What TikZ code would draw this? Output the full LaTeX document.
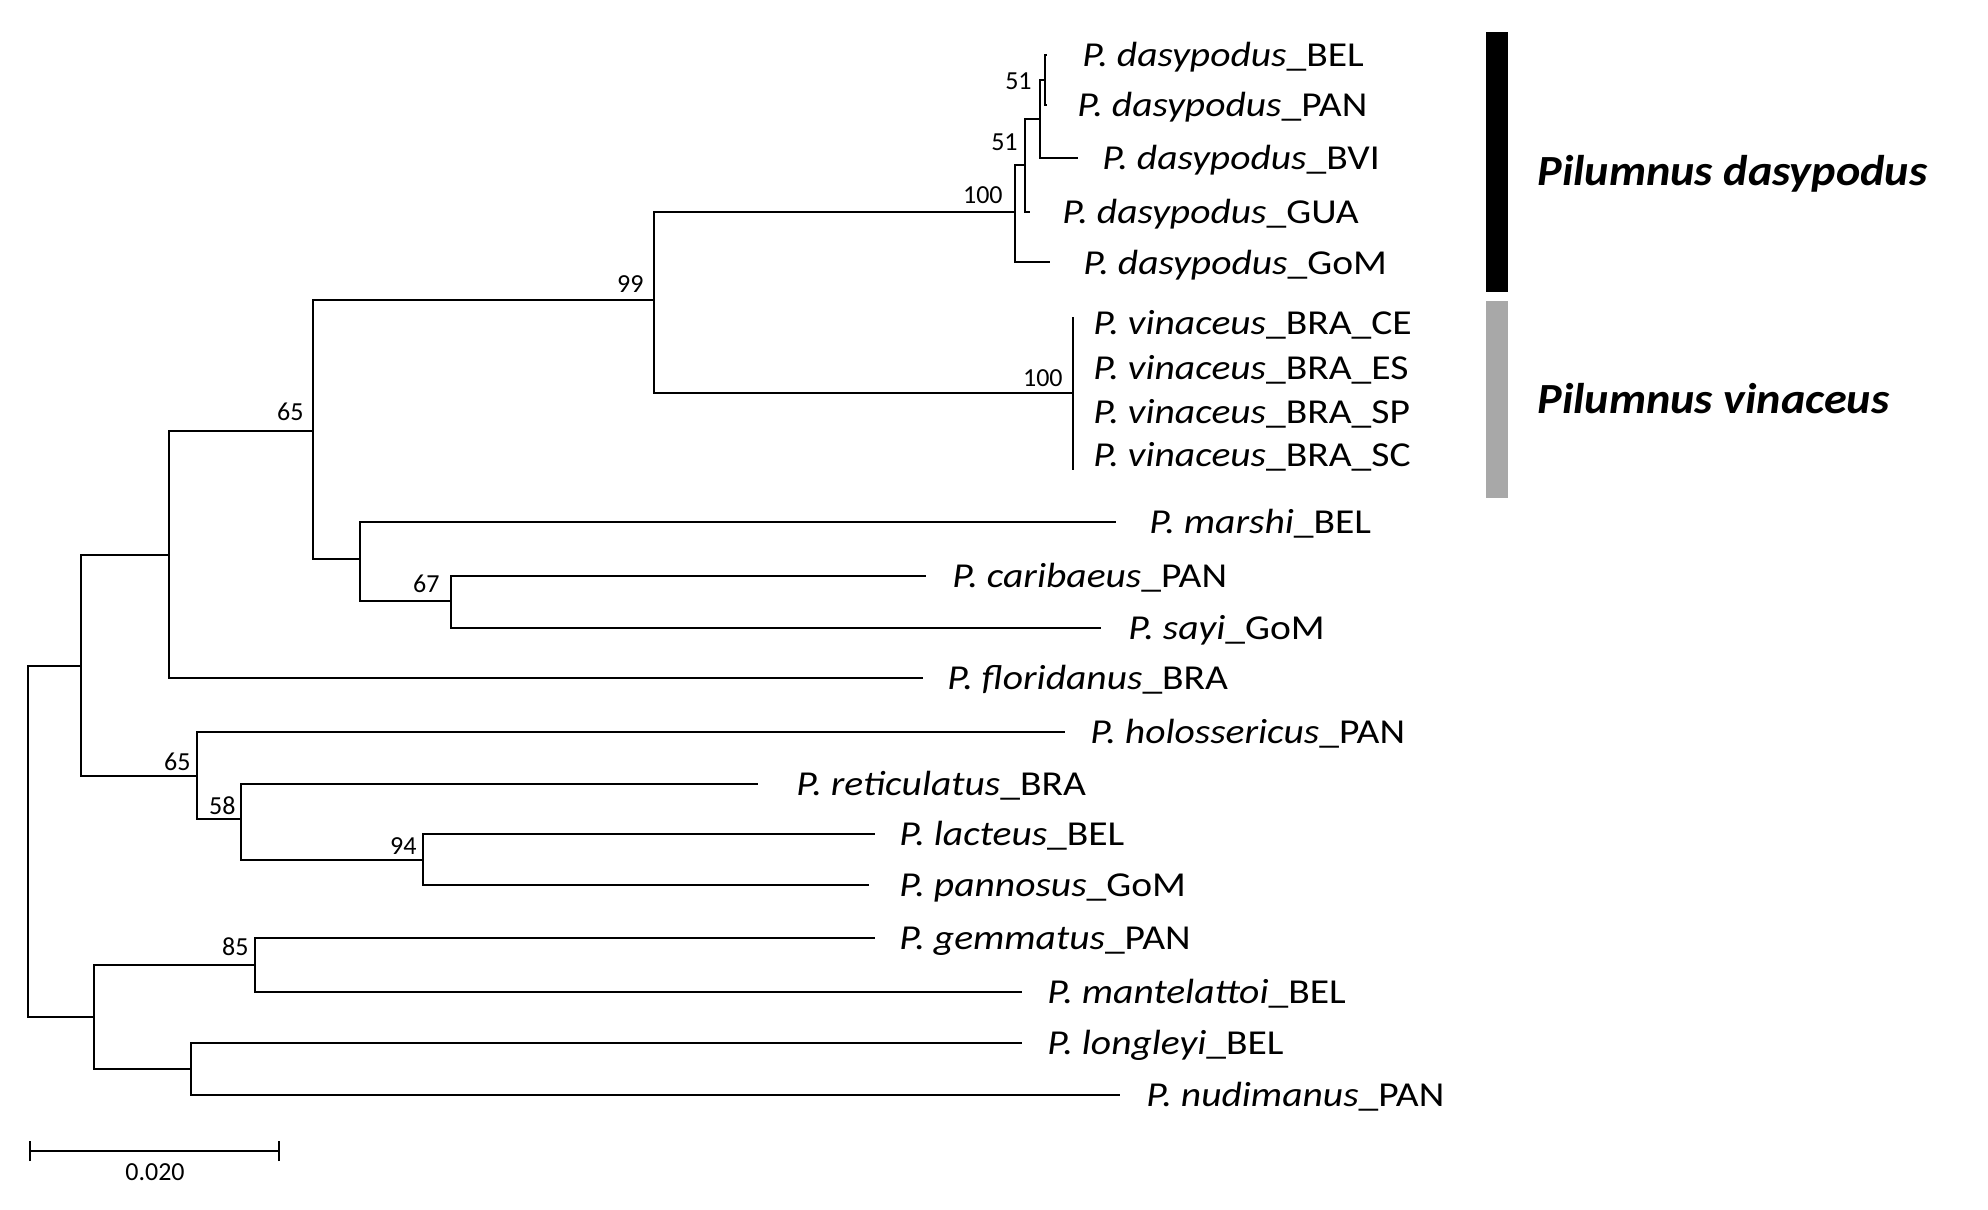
\documentclass[tikz,border=0pt]{standalone}
\usepackage{fontspec}
\setmainfont{Carlito}
\newcommand{\spx}[1]{\scalebox{1.13}[1]{#1}}
\newcommand{\clx}[1]{\scalebox{1.075}[1]{#1}}
\begin{document}
\begin{tikzpicture}[x=0.5pt,y=-0.5pt,
  br/.style={line width=1.1pt},
  sp/.style={anchor=base west,inner sep=0pt,font=\fontsize{17.5}{20}\selectfont},
  bs/.style={anchor=base east,inner sep=0pt,font=\fontsize{13}{15}\selectfont},
  cl/.style={anchor=base west,inner sep=0pt,font=\fontsize{21.5}{25}\selectfont\bfseries\itshape}]
\useasboundingbox (0,0) rectangle (1988,1210);
% internal nodes
\coordinate (root) at (28,841);
\coordinate (A) at (81,666);
\coordinate (B) at (169,555);
\coordinate (C) at (313,431);
\coordinate (D) at (654,300);
\coordinate (Dn) at (1015,212);
\coordinate (E) at (1025,165);
\coordinate (F) at (1040,119);
\coordinate (G) at (1045,80);
\coordinate (V) at (1073,393);
\coordinate (V1) at (1073,317);
\coordinate (V2) at (1073,470);
\coordinate (H) at (360,559);
\coordinate (I) at (451,601);
\coordinate (J) at (197,776);
\coordinate (K) at (241,819);
\coordinate (L) at (423,860);
\coordinate (M) at (94,1017);
\coordinate (N) at (255,965);
\coordinate (O) at (191,1069);
% tips
\coordinate (t1) at (1047,55);
\coordinate (t2) at (1047,105);
\coordinate (t3) at (1078,158);
\coordinate (t4) at (1030,212);
\coordinate (t5) at (1050,262);
\coordinate (t10) at (1116,522);
\coordinate (t11) at (926,576);
\coordinate (t12) at (1101,628);
\coordinate (t13) at (923,678);
\coordinate (t14) at (1065,732);
\coordinate (t15) at (758,784);
\coordinate (t16) at (875,834);
\coordinate (t17) at (869,885);
\coordinate (t18) at (875,938);
\coordinate (t19) at (1022,992);
\coordinate (t20) at (1022,1043);
\coordinate (t21) at (1120,1095);
% branches
\draw[br] (root) |- (A);
\draw[br] (root) |- (M);
\draw[br] (A) |- (B);
\draw[br] (A) |- (J);
\draw[br] (B) |- (C);
\draw[br] (B) |- (t13);
\draw[br] (C) |- (D);
\draw[br] (C) |- (H);
\draw[br] (D) |- (Dn);
\draw[br] (D) |- (V);
\draw[br] (V1) -- (V2);
\draw[br] (Dn) |- (E);
\draw[br] (Dn) |- (t5);
\draw[br] (E) |- (F);
\draw[br] (E) |- (t4);
\draw[br] (F) |- (G);
\draw[br] (F) |- (t3);
\draw[br] (G) |- (t1);
\draw[br] (G) |- (t2);
\draw[br] (H) |- (t10);
\draw[br] (H) |- (I);
\draw[br] (I) |- (t11);
\draw[br] (I) |- (t12);
\draw[br] (J) |- (t14);
\draw[br] (J) |- (K);
\draw[br] (K) |- (t15);
\draw[br] (K) |- (L);
\draw[br] (L) |- (t16);
\draw[br] (L) |- (t17);
\draw[br] (M) |- (N);
\draw[br] (M) |- (O);
\draw[br] (N) |- (t18);
\draw[br] (N) |- (t19);
\draw[br] (O) |- (t20);
\draw[br] (O) |- (t21);
% tip labels
\node[sp] (l1) at (1082,66) {\spx{\textit{P. dasypodus}\_BEL}};
\node[sp] (l2) at (1077,116) {\spx{\textit{P. dasypodus}\_PAN}};
\node[sp] (l3) at (1102,169) {\spx{\textit{P. dasypodus}\_BVI}};
\node[sp] (l4) at (1062,223) {\spx{\textit{P. dasypodus}\_GUA}};
\node[sp] (l5) at (1083,274) {\spx{\textit{P. dasypodus}\_GoM}};
\node[sp] (l6) at (1093,334) {\spx{\textit{P. vinaceus}\_BRA\_CE}};
\node[sp] (l7) at (1093,379) {\spx{\textit{P. vinaceus}\_BRA\_ES}};
\node[sp] (l8) at (1093,423) {\spx{\textit{P. vinaceus}\_BRA\_SP}};
\node[sp] (l9) at (1093,466) {\spx{\textit{P. vinaceus}\_BRA\_SC}};
\node[sp] (l10) at (1149,533) {\spx{\textit{P. marshi}\_BEL}};
\node[sp] (l11) at (952,587) {\spx{\textit{P. caribaeus}\_PAN}};
\node[sp] (l12) at (1128,639) {\spx{\textit{P. sayi}\_GoM}};
\node[sp] (l13) at (947,689) {\spx{\textit{P. floridanus}\_BRA}};
\node[sp] (l14) at (1090,743) {\spx{\textit{P. holossericus}\_PAN}};
\node[sp] (l15) at (796,795) {\spx{\textit{P. reticulatus}\_BRA}};
\node[sp] (l16) at (899,845) {\spx{\textit{P. lacteus}\_BEL}};
\node[sp] (l17) at (899,896) {\spx{\textit{P. pannosus}\_GoM}};
\node[sp] (l18) at (899,949) {\spx{\textit{P. gemmatus}\_PAN}};
\node[sp] (l19) at (1047,1003) {\spx{\textit{P. mantelattoi}\_BEL}};
\node[sp] (l20) at (1047,1054) {\spx{\textit{P. longleyi}\_BEL}};
\node[sp] (l21) at (1146,1106) {\spx{\textit{P. nudimanus}\_PAN}};
% bootstrap values
\node[bs] (b99) at (644,292) {99};
\node[bs] (b65a) at (304,420) {65};
\node[bs] (b67) at (440,592) {67};
\node[bs] (b65b) at (191,770) {65};
\node[bs] (b58) at (236,814) {58};
\node[bs] (b94) at (417,854) {94};
\node[bs] (b85) at (249,955) {85};
\node[bs] (b100a) at (1003,203) {100};
\node[bs] (b100b) at (1063,386) {100};
\node[bs] (b51a) at (1018,150) {51};
\node[bs] (b51b) at (1032,89) {51};
% clade bars
\fill[black] (1486,32) rectangle (1508,292);
\fill[black!34] (1486,301) rectangle (1508,498);
\node[cl] (cd) at (1537,185) {\clx{Pilumnus dasypodus}};
\node[cl] (cv) at (1537,413) {\clx{Pilumnus vinaceus}};
% scale bar
\coordinate (s1) at (30,1151);
\coordinate (s2) at (279,1151);
\draw[br] (s1) -- (s2);
\draw[br] ([yshift=-5pt]s1) -- ([yshift=5pt]s1);
\draw[br] ([yshift=-5pt]s2) -- ([yshift=5pt]s2);
\node[anchor=base,inner sep=0pt,font=\fontsize{13}{15}\selectfont] (sl) at (155,1180) {0.020};
\end{tikzpicture}
\end{document}
